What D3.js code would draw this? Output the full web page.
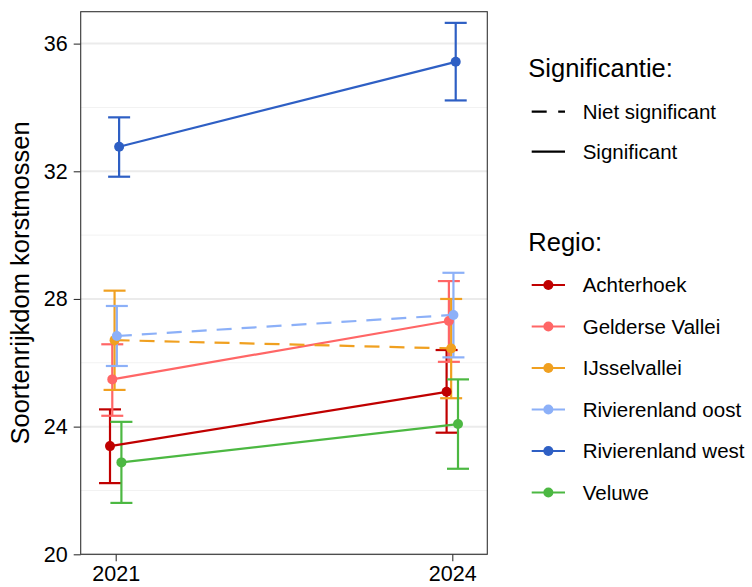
<!DOCTYPE html>
<html>
<head>
<meta charset="utf-8">
<script src="https://cdn.jsdelivr.net/npm/d3@7"></script>
<style>
  body { margin: 0; background: #fff; }
  text { font-family: "Liberation Sans", Arial, sans-serif; fill: #000; }
</style>
</head>
<body>
<div id="chart"></div>
<script>

// regions and their values
var regions = ['Achterhoek', 'Gelderse Vallei', 'IJsselvallei', 'Rivierenland oost', 'Rivierenland west', 'Veluwe'];
var significant = [true, true, false, false, true, true];
var colors = ['#c00000', '#ff6666', '#f0a020', '#8cb0f8', '#2e5fc4', '#4cb842'];

var years = [2021, 2024];
var mean2021 = [23.39, 25.48, 26.71, 26.84, 32.77, 22.88];
var low2021  = [22.23, 24.34, 25.15, 25.90, 31.83, 21.61];
var high2021 = [24.54, 26.58, 28.26, 27.78, 33.69, 24.15];
var mean2024 = [25.09, 27.31, 26.45, 27.50, 35.43, 24.08];
var low2024  = [23.81, 26.03, 24.89, 26.17, 34.22, 22.68];
var high2024 = [26.40, 28.56, 28.00, 28.82, 36.65, 25.48];

var yTicks = [20, 24, 28, 32, 36];
var yMinor = [22, 26, 30, 34];
var sigLabels = ['Niet significant', 'Significant'];

var width = 752,
    height = 587;

var panel = {left: 80.7, right: 487.3, top: 11.7, bottom: 554.3};

var svg = d3.select('#chart')
  .append('svg')
  .attr('width', width)
  .attr('height', height);

var x = d3.scaleLinear()
  .domain([2020.688, 2024.312])
  .range([panel.left, panel.right]);

var y = d3.scaleLinear()
  .domain([20, 37])
  .range([panel.bottom, panel.top]);

// small side-by-side shift per region (position dodge)
var dodge = d3.scalePoint()
  .domain(regions)
  .range([-5.7, 5.7]);

// grid lines
svg.append('g').selectAll('line.minor')
  .data(yMinor)
  .enter().append('line')
  .attr('x1', panel.left).attr('x2', panel.right)
  .attr('y1', d => y(d)).attr('y2', d => y(d))
  .style('stroke', '#f2f2f2')
  .style('stroke-width', 1);

svg.append('g').selectAll('line.major')
  .data(yTicks)
  .enter().append('line')
  .attr('x1', panel.left).attr('x2', panel.right)
  .attr('y1', d => y(d)).attr('y2', d => y(d))
  .style('stroke', '#ebebeb')
  .style('stroke-width', 2);

// build rows per region
var rows = regions.map(function(r, i) {
  return {
    region: r,
    color: colors[i],
    sig: significant[i],
    pts: [
      {year: 2021, mean: mean2021[i], low: low2021[i], high: high2021[i]},
      {year: 2024, mean: mean2024[i], low: low2024[i], high: high2024[i]}
    ]
  };
});

var px = (d, r) => x(d.year) + dodge(r);

// error bars
var capHalf = 11;
rows.forEach(function(row) {
  var g = svg.append('g');
  row.pts.forEach(function(d) {
    var cx = px(d, row.region);
    g.append('line')
      .attr('x1', cx).attr('x2', cx)
      .attr('y1', y(d.low)).attr('y2', y(d.high));
    g.append('line')
      .attr('x1', cx - capHalf).attr('x2', cx + capHalf)
      .attr('y1', y(d.low)).attr('y2', y(d.low));
    g.append('line')
      .attr('x1', cx - capHalf).attr('x2', cx + capHalf)
      .attr('y1', y(d.high)).attr('y2', y(d.high));
  });
  g.selectAll('line')
    .style('stroke', row.color)
    .style('stroke-width', 2.2);
});

// connecting lines
var line = d3.line()
  .x(d => d[0])
  .y(d => d[1]);

rows.forEach(function(row) {
  svg.append('path')
    .datum(row.pts.map(d => [px(d, row.region), y(d.mean)]))
    .attr('d', line)
    .style('fill', 'none')
    .style('stroke', row.color)
    .style('stroke-width', 2.2)
    .style('stroke-dasharray', row.sig ? null : '15,10');
});

// points
rows.forEach(function(row) {
  svg.append('g').selectAll('circle')
    .data(row.pts)
    .enter().append('circle')
    .attr('cx', d => px(d, row.region))
    .attr('cy', d => y(d.mean))
    .attr('r', 5)
    .style('fill', row.color);
});

// panel border
svg.append('rect')
  .attr('x', panel.left).attr('y', panel.top)
  .attr('width', panel.right - panel.left)
  .attr('height', panel.bottom - panel.top)
  .style('fill', 'none')
  .style('stroke', '#333')
  .style('stroke-width', 1.1);

// axes
var yAxis = svg.append('g')
  .attr('transform', 'translate(' + panel.left + ',0)')
  .call(d3.axisLeft(y).tickValues(yTicks).tickSize(7).tickPadding(6));

var xAxis = svg.append('g')
  .attr('transform', 'translate(0,' + panel.bottom + ')')
  .call(d3.axisBottom(x).tickValues(years).tickFormat(d3.format('d')).tickSize(7).tickPadding(4));

[yAxis, xAxis].forEach(function(a) {
  a.select('.domain').remove();
  a.selectAll('.tick line').style('stroke', '#333').style('stroke-width', 1.1);
  a.selectAll('.tick text')
    .style('font-size', '21.5px')
    .style('font-family', '"Liberation Sans", Arial, sans-serif')
    .style('fill', '#000');
});

svg.append('text')
  .attr('transform', 'translate(29,' + ((panel.top + panel.bottom) / 2) + ') rotate(-90)')
  .attr('text-anchor', 'middle')
  .style('font-size', '25.5px')
  .text('Soortenrijkdom korstmossen');

// legends
var legX = 528.3,
    keyX1 = 531.7,
    keyX2 = 565,
    textX = 582.7;

svg.append('text')
  .attr('x', legX).attr('y', 68)
  .attr('dy', '0.35em')
  .style('font-size', '25.5px')
  .text('Significantie:');

var sigItems = svg.append('g').selectAll('g')
  .data(sigLabels)
  .enter().append('g')
  .attr('transform', (d, i) => 'translate(0,' + (111.7 + i * 40) + ')');

sigItems.append('line')
  .attr('x1', keyX1).attr('x2', keyX2)
  .style('stroke', '#000')
  .style('stroke-width', 2.2)
  .style('stroke-dasharray', (d, i) => i === 0 ? '15,11.5' : null);

sigItems.append('text')
  .attr('x', textX)
  .attr('dy', '0.35em')
  .style('font-size', '20.5px')
  .text(d => d);

svg.append('text')
  .attr('x', legX).attr('y', 241.7)
  .attr('dy', '0.35em')
  .style('font-size', '25.5px')
  .text('Regio:');

var regItems = svg.append('g').selectAll('g')
  .data(regions)
  .enter().append('g')
  .attr('transform', (d, i) => 'translate(0,' + (285 + i * 41.5) + ')');

regItems.append('line')
  .attr('x1', keyX1).attr('x2', keyX2)
  .style('stroke', (d, i) => colors[i])
  .style('stroke-width', 2.2);

regItems.append('circle')
  .attr('cx', (keyX1 + keyX2) / 2)
  .attr('r', 5)
  .style('fill', (d, i) => colors[i]);

regItems.append('text')
  .attr('x', textX)
  .attr('dy', '0.35em')
  .style('font-size', '20.5px')
  .text(d => d);

</script>
</body>
</html>
